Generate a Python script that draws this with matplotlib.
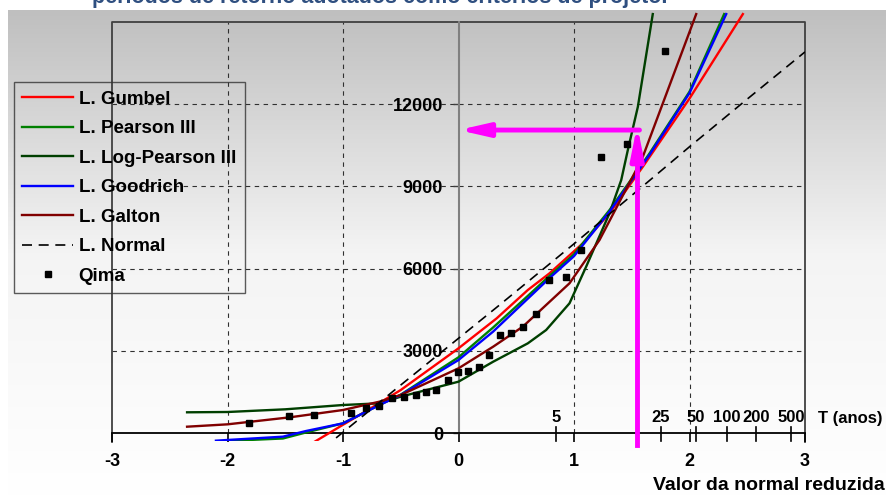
import numpy as np
import matplotlib.pyplot as plt
from matplotlib.colors import LinearSegmentedColormap
from statistics import NormalDist

plt.rcParams['font.family'] = ['Liberation Sans', 'DejaVu Sans']
plt.rcParams['font.weight'] = 'bold'

# Leis de probabilidade (valor da normal reduzida -> vazao)
z_gumbel = [-1.25, -1.0, -0.857, -0.5, 0.0, 0.33, 0.6, 0.788, 1.076, 1.307, 1.596, 2.0, 2.462]
q_gumbel = [-330, 300, 656, 1568, 3089, 4180, 5215, 5824, 6918, 8012, 9712, 12200, 15280]

z_pearson = [-2.0, -1.52, -1.32, -1.0, -0.684, -0.5, 0.0, 0.3, 0.6, 0.788, 1.0, 1.307, 1.538, 1.654, 2.0, 2.3]
q_pearson = [-290, -200, 20, 353, 1021, 1400, 2761, 3850, 5000, 5730, 6520, 8130, 9500, 10200, 12450, 15280]

z_logp = [-2.35, -2.0, -1.5, -1.0, -0.684, -0.5, 0.0, 0.3, 0.6, 0.759, 0.961, 1.105, 1.307, 1.409, 1.466, 1.553, 1.682]
q_logp = [755, 766, 864, 1021, 1083, 1325, 1872, 2600, 3270, 3757, 4730, 6065, 8012, 9227, 10320, 11900, 15280]

z_goodrich = [-2.1, -1.52, -1.32, -1.0, -0.684, -0.5, 0.0, 0.3, 0.6, 0.788, 1.0, 1.307, 1.538, 1.654, 2.0, 2.318]
q_goodrich = [-280, -134, 73, 353, 1021, 1386, 2662, 3700, 4900, 5650, 6450, 8070, 9450, 10150, 12400, 15280]

z_galton = [-2.35, -2.0, -1.46, -1.0, -0.684, -0.5, 0.0, 0.3, 0.557, 0.961, 1.221, 1.538, 1.596, 1.798, 2.058]
q_galton = [230, 316, 572, 839, 1143, 1386, 2359, 3148, 3880, 5460, 7040, 9592, 10077, 12350, 15280]

z_normal = [-1.06, -0.5, 0.0, 0.355, 1.0, 1.625, 2.0, 2.49, 3.0]
q_normal = [-180, 1750, 3453, 4668, 6900, 9107, 10440, 12145, 13900]

# Vazoes maximas observadas
z_qima = [-1.81, -1.47, -1.25, -0.935, -0.80, -0.684, -0.574, -0.474, -0.372, -0.28, -0.193, -0.093, -0.003,
          0.078, 0.176, 0.268, 0.355, 0.456, 0.557, 0.675, 0.78, 0.93, 1.062, 1.23, 1.457, 1.79]
q_qima = [376, 620, 657, 741, 900, 997, 1277, 1325, 1374, 1484, 1568, 1933, 2225,
          2274, 2420, 2857, 3588, 3660, 3855, 4340, 5580, 5690, 6675, 10067, 10540, 13933]

# Periodos de retorno
T_anos = [5, 25, 50, 100, 200, 500]

# Cheia de projeto
z_projeto = 1.547
q_projeto = 11050

W, H = 886, 496
fig = plt.figure(figsize=(W / 100, H / 100), dpi=100)


def fy(py):
    return 1 - py / H


# fundo em degrade
bg = fig.add_axes([8 / W, 0, 1 - 8 / W, 1 - 10 / H])
cmap = LinearSegmentedColormap.from_list('fundo', ['#bfbfbf', '#f4f4f4', '#ffffff'])
bg.imshow(np.linspace(0, 1, 256).reshape(-1, 1), aspect='auto', cmap=cmap, extent=[0, 1, 0, 1])
bg.axis('off')

fig.text(92 / W, fy(3), 'períodos de retorno adotados como critérios de projeto.',
         color='#2f4f80', fontsize=15.5, va='baseline')

k = 329 / 12000  # px por unidade
ybot = (433 - 441) / k
ytop = (433 - 10) / k
ax = fig.add_axes([112 / W, 1 - 441 / H, (805 - 112) / W, (441 - 10) / H])
ax.set_xlim(-3, 3)
ax.set_ylim(ybot, ytop)
ax.patch.set_visible(False)
for s in ['top', 'right']:
    ax.spines[s].set_visible(False)

# grade
for xv in [-2, -1, 1, 2]:
    ax.plot([xv, xv], [0, 15000], color='#303030', lw=0.8, ls=(0, (4, 4)), zorder=1)
for yv in [3000, 6000, 9000, 12000]:
    ax.plot([-3, 3], [yv, yv], color='#303030', lw=0.8, ls=(0, (4, 4)), zorder=1)

# moldura
ax.plot([-3, -3, 3, 3], [-330, 15000, 15000, -330], color='#404040', lw=1.3, clip_on=False, zorder=1)

# eixos
ax.spines['bottom'].set_position(('data', 0))
ax.spines['bottom'].set_linewidth(1.3)
ax.spines['left'].set_position(('data', 0))
ax.spines['left'].set_bounds(0, 15000)
ax.spines['left'].set_color('#808080')
ax.spines['left'].set_linewidth(1.5)
ax.set_xticks([-3, -2, -1, 0, 1, 2, 3])
ax.set_xticklabels(['-3', '-2', '-1', '0', '1', '2', '3'])
ax.tick_params(axis='x', direction='out', length=6.5, width=1.2, pad=8, labelsize=13)
ax.set_yticks([0, 3000, 6000, 9000, 12000])
ax.tick_params(axis='y', direction='out', length=4, width=1.0, color='#404040', pad=7, labelsize=13)

# curvas
ax.plot(z_gumbel, q_gumbel, color='#ff0000', lw=1.7, label='L. Gumbel', zorder=3)
ax.plot(z_pearson, q_pearson, color='#008000', lw=1.7, label='L. Pearson III', zorder=3)
ax.plot(z_logp, q_logp, color='#003f00', lw=1.7, label='L. Log-Pearson III', zorder=3)
ax.plot(z_goodrich, q_goodrich, color='#0000ff', lw=1.7, label='L. Goodrich', zorder=3)
ax.plot(z_galton, q_galton, color='#800000', lw=1.7, label='L. Galton', zorder=3)
ax.plot(z_normal, q_normal, color='black', lw=1.2, ls=(0, (6, 4)), label='L. Normal', zorder=3)
ax.plot(z_qima, q_qima, ls='none', marker='s', ms=4.5, color='black', label='Qima', zorder=4)

# periodos de retorno
for T in T_anos:
    zt = NormalDist().inv_cdf(1 - 1 / T)
    ax.plot([zt, zt], [-292, 219], color='black', lw=1.2, clip_on=False, zorder=2)
    ax.text(zt, 560, str(T), ha='center', va='center', fontsize=12)
fig.text(883 / W, fy(418), 'T (anos)', ha='right', va='center', fontsize=12)
fig.text(885 / W, fy(486), 'Valor da normal reduzida', ha='right', va='center', fontsize=14)

# cheia de projeto
ax.plot([z_projeto, z_projeto], [-440, 10300], color='#ff00ff', lw=3.5, clip_on=False, zorder=6)
ax.annotate('', xy=(z_projeto, 11230), xytext=(z_projeto, 10000),
            arrowprops=dict(arrowstyle='-|>,head_length=1.9,head_width=0.38', color='#ff00ff',
                            lw=3.5, shrinkA=0, shrinkB=0), zorder=6)
ax.annotate('', xy=(0, q_projeto), xytext=(z_projeto + 0.02, q_projeto),
            arrowprops=dict(arrowstyle='-|>,head_length=1.75,head_width=0.4', color='#ff00ff',
                            lw=3.5, shrinkA=0, shrinkB=0), zorder=6)

leg = fig.legend(loc='upper left', bbox_to_anchor=(14 / W, fy(82)), borderaxespad=0,
                 fontsize=13.5, handlelength=2.7, handletextpad=0.3, labelspacing=0.66,
                 borderpad=0.45, frameon=True, fancybox=False)
leg.get_frame().set_facecolor('none')
leg.get_frame().set_edgecolor('#333333')
leg.get_frame().set_linewidth(1.0)

fig.savefig('out.png', dpi=100)
